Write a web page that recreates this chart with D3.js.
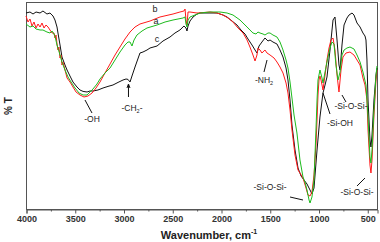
<!DOCTYPE html>
<html>
<head>
<meta charset="utf-8">
<script src="https://cdn.jsdelivr.net/npm/d3@7"></script>
<style>
  html, body { margin: 0; padding: 0; background: #fff; }
  svg { display: block; font-family: Arial, "Liberation Sans", sans-serif; }
</style>
</head>
<body>
<div id="chart"></div>
<script>
// FTIR spectra, [wavenumber cm-1, %T]
var curveA = [[4000,92.5],[3959,91],[3928,91.5],[3897,90],[3856,89.5],[3826,89.5],[3785,88.5],[3754,88],[3733,89],[3713,87.5],[3703,86.5],[3682,82],[3672,80.5],[3651,77],[3631,73.5],[3600,69.5],[3569,66],[3538,63.5],[3497,60.5],[3456,58],[3415,57],[3374,57],[3344,58.5],[3313,60],[3272,62.5],[3241,65],[3190,68],[3138,70.5],[3087,74.5],[3036,78.5],[2985,82],[2954,83.5],[2933,83.5],[2913,81.5],[2892,84.5],[2862,87],[2810,89],[2759,90.5],[2656,92],[2574,93.5],[2492,94.5],[2390,95.5],[2369,96],[2359,92.5],[2349,91],[2338,94.5],[2318,96],[2215,98],[2113,98.5],[2010,98.5],[1938,98],[1877,97],[1805,94.5],[1764,92.5],[1733,91],[1703,89.5],[1672,88],[1641,87.5],[1621,88.5],[1600,88],[1569,87.5],[1549,87],[1518,88],[1497,88],[1467,87],[1426,86],[1395,83.5],[1364,79.5],[1333,74.5],[1313,70.5],[1292,63.5],[1272,55.5],[1251,47],[1221,38],[1190,24.5],[1159,16],[1139,13.5],[1118,9.5],[1097,4.5],[1087,3],[1067,6],[1046,14.5],[1036,27],[1026,39.5],[1015,54.5],[1005,64.5],[985,69.5],[964,65.5],[954,63],[933,68.5],[913,73.5],[882,80.5],[862,83.5],[841,82.5],[821,72],[800,64.5],[779,68.5],[759,77],[738,79.5],[708,80.5],[677,81],[636,80],[605,77],[574,73.5],[544,68.5],[513,62],[503,54.5],[492,46],[472,26],[462,23],[451,29.5],[431,49.5],[410,67],[400,71.5]];

var curveB = [[4000,96.5],[3979,93.5],[3959,95],[3938,91.5],[3918,93.5],[3897,90.5],[3877,92.5],[3856,91],[3836,93],[3815,90.5],[3795,92],[3774,91],[3754,89.5],[3733,88],[3713,88],[3703,85.5],[3692,87],[3682,82.5],[3672,79.5],[3662,81],[3651,75.5],[3641,77],[3631,72],[3621,73.5],[3600,69.5],[3579,65.5],[3549,63.5],[3518,61],[3487,58.5],[3446,57],[3405,56],[3364,56.5],[3323,58],[3282,60.5],[3241,63.5],[3190,68],[3138,72.5],[3087,77],[3036,81],[2985,85],[2933,88.5],[2913,89.5],[2882,91],[2831,92.5],[2728,94],[2626,96],[2492,97.5],[2421,98.5],[2380,99],[2369,100],[2359,94.5],[2349,92],[2338,98.5],[2318,98.5],[2246,98],[2113,98.5],[2041,98],[1980,97],[1928,95.5],[1877,93.5],[1826,90.5],[1774,88],[1733,84.5],[1703,81],[1672,77],[1651,74],[1631,77],[1621,80.5],[1600,79.5],[1580,78],[1549,79.5],[1528,78],[1497,77],[1456,75.5],[1426,73.5],[1395,71],[1364,68],[1333,63],[1313,58],[1292,49.5],[1272,39.5],[1241,27],[1210,19.5],[1190,18],[1159,15.5],[1128,10.5],[1108,7],[1087,6.5],[1067,8.5],[1046,17],[1026,32],[1015,44.5],[1005,57],[995,64.5],[985,66.5],[974,64.5],[954,59.5],[933,67],[913,74.5],[892,80.5],[872,84.5],[851,85.5],[831,79.5],[810,67],[790,58.5],[769,69.5],[749,76],[718,78],[677,78.5],[636,77],[605,74.5],[574,72],[544,65.5],[523,62],[503,54.5],[492,39.5],[472,22],[462,18],[451,24.5],[431,47],[410,64.5],[400,69.5]];

var curveC = [[4000,98],[3959,98.5],[3928,97.5],[3897,98.5],[3856,98],[3826,99],[3785,97.5],[3754,98],[3723,96.5],[3703,94.5],[3682,91],[3672,88],[3651,82],[3631,76],[3600,72],[3579,69.5],[3549,66.5],[3518,63.5],[3477,61],[3446,59.5],[3415,58.8],[3374,58.5],[3344,59],[3313,59],[3262,59.5],[3210,60.5],[3159,61.3],[3108,62],[3056,63.3],[3005,64.5],[2974,65],[2954,64.8],[2933,63.5],[2913,66.5],[2882,71],[2831,78],[2800,78.5],[2759,79.5],[2728,80.5],[2656,81.5],[2595,84],[2523,86],[2472,88],[2421,89.5],[2380,91.5],[2359,90.5],[2349,89],[2338,91.5],[2318,94],[2287,96],[2246,97.5],[2215,98],[2113,98],[2041,98],[1980,97],[1938,96],[1887,94],[1836,92],[1795,89.5],[1754,87.5],[1723,85],[1682,82],[1651,79.5],[1631,78],[1610,81.5],[1580,83.5],[1549,85.5],[1518,84],[1497,84.5],[1467,83.5],[1426,82.5],[1395,79.5],[1364,76],[1333,70.5],[1313,64.5],[1292,54.5],[1272,42],[1241,29.5],[1210,20.5],[1179,16.5],[1149,14.5],[1118,12.5],[1087,9.5],[1067,7.5],[1046,10.5],[1015,29.5],[985,46],[954,58],[933,62],[913,66],[882,79.5],[851,94.5],[831,96],[810,84.5],[790,72],[779,69.5],[759,82],[738,92],[708,95.5],[687,97],[656,98],[636,97],[605,93],[574,91],[544,88],[523,86.5],[513,84.5],[503,74.5],[492,54.5],[472,34.5],[462,31],[451,37],[431,54.5],[410,67],[400,70.5]];

var majorTicks = [4000,3500,3000,2500,2000,1500,1000,500];
var minorTicks = [3750,3250,2750,2250,1750,1250,750];
var seriesNames = ['c','b','a'];

const width = 380, height = 242;
const mLeft = 26, mRight = 377, mTop = 2, mBottom = 209;

var svg = d3.select('#chart').append('svg')
    .attr('width', width)
    .attr('height', height);

var x = d3.scaleLinear().domain([4000, 400]).range([mLeft, mRight]);
var y = d3.scaleLinear().domain([0, 103.5]).range([mBottom, mTop]);

// frame
svg.append('rect')
    .attr('x', mLeft + 0.5).attr('y', mTop + 0.5)
    .attr('width', mRight - mLeft).attr('height', mBottom - mTop)
    .attr('fill', 'none').attr('stroke', '#555').attr('stroke-width', 1);

// x axis, major and minor ticks
var axMajor = d3.axisBottom(x).tickValues(majorTicks).tickSize(4).tickFormat(d3.format('d'));
var axMinor = d3.axisBottom(x).tickValues(minorTicks).tickSize(2).tickFormat('');
var gx = svg.append('g').attr('transform', 'translate(0.5,' + (mBottom + 0.5) + ')').call(axMajor);
svg.append('g').attr('transform', 'translate(0.5,' + (mBottom + 0.5) + ')').call(axMinor)
    .select('.domain').remove();
gx.select('.domain').attr('stroke', '#555');
svg.selectAll('.tick line').attr('stroke', '#555');
gx.selectAll('.tick text')
    .attr('font-size', 9).attr('font-weight', 'bold')
    .attr('font-family', 'Arial, Liberation Sans, sans-serif')
    .attr('fill', '#333').attr('dy', '0.85em').attr('y', 5);

// axis titles
var xt = svg.append('text')
    .attr('x', 209).attr('y', 239)
    .attr('text-anchor', 'middle')
    .attr('font-size', 11).attr('font-weight', 'bold').attr('fill', '#222')
    .text('Wavenumber, cm');
xt.append('tspan').attr('font-size', 7).attr('dy', -5).text('-1');

svg.append('text')
    .attr('transform', 'translate(12,106) rotate(-90)')
    .attr('text-anchor', 'middle')
    .attr('font-size', 10).attr('font-weight', 'bold').attr('fill', '#222')
    .text('% T');

// spectra
var line = d3.line().x(d => x(d[0])).y(d => y(d[1]));
var series = [
    {data: curveC, color: '#111111'},
    {data: curveB, color: '#ff1a1a'},
    {data: curveA, color: '#1dbb1d'}
];
svg.selectAll('path.spec')
    .data(series)
    .enter()
    .append('path')
    .attr('class', 'spec')
    .attr('d', d => line(d.data))
    .attr('fill', 'none')
    .attr('stroke', d => d.color)
    .attr('stroke-width', 1)
    .attr('stroke-linejoin', 'round');

// curve letters
var letterPos = [[2656, 83.5], [2677, 98.5], [2667, 92.5]];
svg.selectAll('text.letter')
    .data(seriesNames)
    .enter()
    .append('text')
    .attr('class', 'letter')
    .attr('x', (d, i) => x(letterPos[i][0]))
    .attr('y', (d, i) => y(letterPos[i][1]))
    .attr('text-anchor', 'middle')
    .attr('font-size', 9).attr('fill', '#222')
    .text(d => d);

// band annotations
function label(wn, t, str, sub, tail) {
    var el = svg.append('text')
        .attr('x', x(wn)).attr('y', y(t))
        .attr('text-anchor', 'middle')
        .attr('font-size', 8.5).attr('fill', '#222')
        .text(str);
    if (sub) {
        el.append('tspan').attr('font-size', 5.5).attr('dy', 2).text(sub);
        if (tail) el.append('tspan').attr('dy', -2).text(tail);
    }
}
function leader(w1, t1, w2, t2) {
    svg.append('line')
        .attr('x1', x(w1)).attr('y1', y(t1))
        .attr('x2', x(w2)).attr('y2', y(t2))
        .attr('stroke', '#111').attr('stroke-width', 1);
}

label(3323, 43.5, '-OH');
leader(3395, 54.5, 3323, 48);

label(2913, 49, '-CH', '2', '-');
leader(2949, 56, 2949, 62);
svg.append('path')
    .attr('d', 'M' + (x(2949) - 1.5) + ',' + (y(61) + 1) + 'L' + x(2949) + ',' + (y(62) - 1) + 'L' + (x(2949) + 1.5) + ',' + (y(61) + 1))
    .attr('fill', 'none').attr('stroke', '#111').attr('stroke-width', 1);

label(1559, 63, '-NH', '2');
leader(1528, 74.5, 1559, 68.5);

label(667, 50, '-Si-O-Si-');
leader(759, 57, 718, 53.5);

label(780, 41.5, '-Si-OH');
leader(954, 58, 882, 47.5);

label(1497, 9.5, '-Si-O-Si-');
leader(1292, 6, 1159, 4.5);

label(605, 7, '-Si-O-Si-');
leader(605, 11.5, 523, 15.5);
</script>
</body>
</html>
